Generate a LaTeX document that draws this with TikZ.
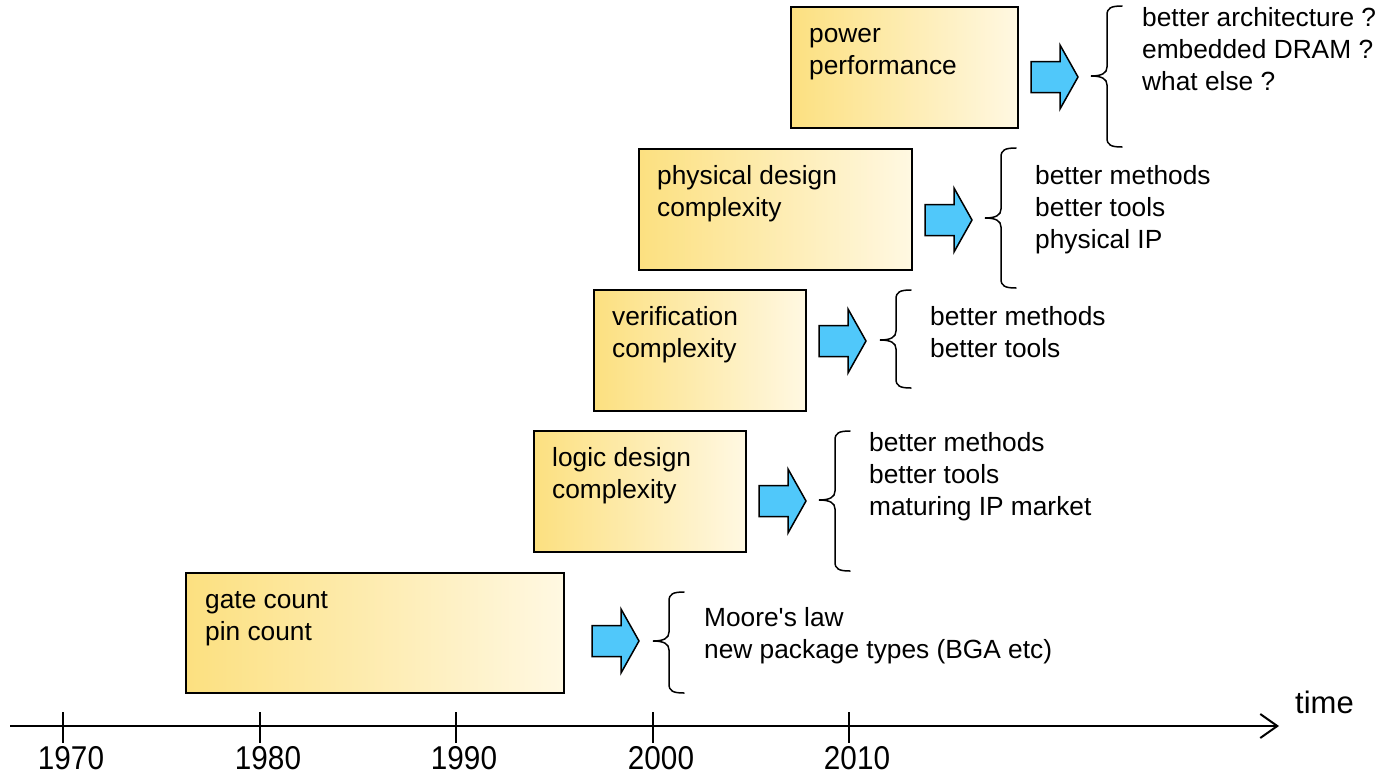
\documentclass[tikz,border=0pt]{standalone}
\usepackage{fontspec}
\setmainfont{Liberation Sans}
\newfontfamily\yearfont[FakeStretch=0.9]{Liberation Sans}
\usetikzlibrary{arrows.meta}
\definecolor{boxL}{RGB}{252,224,128}
\definecolor{boxR}{RGB}{255,248,226}
\definecolor{arrowblue}{RGB}{80,200,250}
\tikzset{
  box/.style={draw=black, line width=2pt, left color=boxL, right color=boxR, anchor=north west, inner sep=0pt},
  lbl/.style={anchor=base west, align=left, inner sep=0pt, font=\fontsize{26.3}{32}\selectfont},
  curly/.style={line width=1.5pt, line cap=round},
  blockarrow/.style={draw=black, line width=1.5pt, fill=arrowblue, line join=miter},
  barrow/.pic={\path[blockarrow] (0,-15.5) -- (29,-15.5) -- (29,-32) -- (47,0) -- (29,32) -- (29,15.5) -- (0,15.5) -- cycle;},
  yearlbl/.style={anchor=base, inner sep=0pt, font=\yearfont\fontsize{33}{36}\selectfont},
  tick/.style={line width=1.5pt},
}
% #1 vertical x, #2 top y, #3 bottom y, #4 tip y
\newcommand{\drawcurly}[4]{%
  \draw[curly] ({#1+15},#2) .. controls ({#1+4},#2) and (#1,{#2+2}) .. (#1,{#2+9})
    -- (#1,{#4-9}) .. controls (#1,{#4-3}) and ({#1-5},#4) .. ({#1-16},#4)
    .. controls ({#1-5},#4) and (#1,{#4+3}) .. (#1,{#4+9})
    -- (#1,{#3-9}) .. controls (#1,{#3-2}) and ({#1+4},#3) .. ({#1+15},#3);}
\begin{document}
\begin{tikzpicture}[x=1pt,y=-1pt]
\useasboundingbox (0,0) rectangle (1381,774);
% boxes
\node[box, minimum width=378pt, minimum height=120pt] (b1) at (185,572) {};
\node[box, minimum width=212pt, minimum height=121pt] (b2) at (533,430) {};
\node[box, minimum width=212pt, minimum height=121pt] (b3) at (593,289) {};
\node[box, minimum width=273pt, minimum height=121pt] (b4) at (638,148) {};
\node[box, minimum width=227pt, minimum height=121pt] (b5) at (790,6) {};
% box texts (anchor = baseline of last line)
\node[lbl] (bt1) at (205,640) {gate count\\pin count};
\node[lbl] (bt2) at (552,498) {logic design\\complexity};
\node[lbl] (bt3) at (612,357) {verification\\complexity};
\node[lbl] (bt4) at (657,216) {physical design\\complexity};
\node[lbl] (bt5) at (809,74) {power\\performance};
% block arrows
\pic (a1) at (592,641) {barrow};
\pic (a2) at (759,501) {barrow};
\pic (a3) at (819,341) {barrow};
\pic (a4) at (925,220) {barrow};
\pic (a5) at (1031,77) {barrow};
% braces
\drawcurly{669}{592}{693}{641}
\drawcurly{835}{431}{571}{500}
\drawcurly{896}{290}{388}{340}
\drawcurly{1001}{148}{288}{218}
\drawcurly{1107}{6}{147}{76}
% right texts (anchor = baseline of last line)
\node[lbl] (t1) at (704,658) {Moore\textquotesingle s law\\new package types (BGA etc)};
\node[lbl] (t2) at (869,515) {better methods\\better tools\\maturing IP market};
\node[lbl] (t3) at (930,357) {better methods\\better tools};
\node[lbl] (t4) at (1035,248) {better methods\\better tools\\physical IP};
\node[lbl] (t5) at (1142,90) {better architecture ?\\embedded DRAM ?\\what else ?};
% axis
\coordinate (axL) at (10,726);
\coordinate (axR) at (1279,726);
\draw[line width=2.5pt, -{Straight Barb[length=17pt,width=24pt,line width=2pt]}] (axL) -- (axR);
\foreach \x/\yr in {63/1970,260/1980,456/1990,653/2000,849/2010}{
  \draw[tick] (\x,712) -- (\x,743);
  \node[yearlbl] (y\yr) at ({\x+8},769) {\yr};
}
\node[anchor=base west, inner sep=0pt, font=\fontsize{31}{36}\selectfont] (time) at (1295,713) {time};
\end{tikzpicture}
\end{document}
